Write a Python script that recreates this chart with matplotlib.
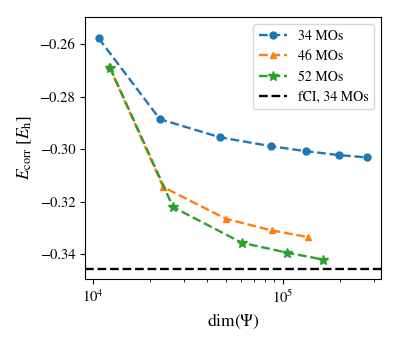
import matplotlib
matplotlib.use("Agg")
import matplotlib.pyplot as plt

plt.rcParams["font.family"] = "STIXGeneral"
plt.rcParams["mathtext.fontset"] = "stix"
plt.rcParams["font.size"] = 10

dim_34 = [10700, 22500, 46600, 86500, 132000, 198000, 278000]
e_34 = [-0.2577, -0.2886, -0.2955, -0.2989, -0.3008, -0.3023, -0.3032]
dim_46 = [12140, 23450, 49900, 87200, 134800]
e_46 = [-0.2683, -0.3145, -0.3265, -0.3310, -0.3335]
dim_52 = [12300, 26400, 60700, 105400, 163000]
e_52 = [-0.2690, -0.3221, -0.3357, -0.3395, -0.3421]
e_fci = -0.3457

fig = plt.figure(figsize=(3.99, 3.49), dpi=100)
ax = fig.add_axes([0.213, 0.2006, 0.742, 0.7504])

ax.plot(dim_34, e_34, "o--", color="tab:blue", lw=1.7, markersize=5, label="34 MOs")
ax.plot(dim_46, e_46, "^--", color="tab:orange", lw=1.7, markersize=5, label="46 MOs")
ax.plot(dim_52, e_52, "*--", color="tab:green", lw=1.7, markersize=7, label="52 MOs")
ax.axhline(e_fci, color="black", linestyle="--", lw=1.7, label="fCI, 34 MOs")

ax.set_xscale("log")
ax.set_xlim(9080, 328000)
ax.set_ylim(-0.3495, -0.2497)
ax.set_yticks([-0.26, -0.28, -0.30, -0.32, -0.34])
ax.tick_params(labelsize=10.5)
ax.set_xlabel(r"dim($\Psi$)", fontsize=12.5)
ax.set_ylabel(r"$E_{\mathrm{corr}}$ [$E_{\mathrm{h}}$]", fontsize=12.5)
ax.legend(loc="upper right")

fig.savefig("out.png", dpi=100)
